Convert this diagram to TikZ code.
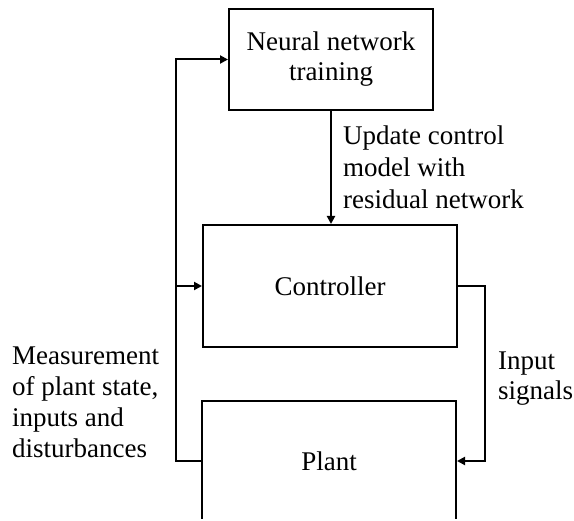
\documentclass[tikz,border=0pt]{standalone}
\usepackage{fontspec}
\setmainfont{Liberation Serif}
\usetikzlibrary{arrows.meta}
\begin{document}
\begin{tikzpicture}[x=1pt,y=-1pt,
  box/.style={draw,line width=2pt,inner sep=0pt,align=center},
  arr/.style={line width=2pt,-{Triangle[length=8pt,width=8pt]}},
  txt/.style={inner sep=0pt,align=left,anchor=base west},
  font=\fontsize{27}{30}\selectfont]
\useasboundingbox (0,0) rectangle (574,521);
\clip (0,0) rectangle (574,518.5);
\node[box,minimum width=204pt,minimum height=101pt] (nn) at (331,59.5) {Neural network\\training};
\node[box,minimum width=254pt,minimum height=122pt] (ctrl) at (330,286) {Controller};
\node[box,minimum width=254pt,minimum height=120pt] (plant) at (329,461) {Plant};
\coordinate (sig) at (485,286);
\coordinate (fbtop) at (176,59.5);
\coordinate (fbmid) at (176,286);
\draw[arr] (nn.south) -- (nn.south |- ctrl.north);
\draw[arr] (ctrl.east) -- (sig) |- (plant.east);
\draw[arr] (plant.west) -| (fbtop) -- (nn.west);
\draw[arr] (fbmid) -- (ctrl.west);
\node[txt,font=\fontsize{27}{32}\selectfont] (upd) at (343,209) {Update control\\model with\\residual network};
\node[txt] (inp) at (498,400) {Input\\signals};
\node[txt,font=\fontsize{27}{31}\selectfont] (meas) at (12,458) {Measurement\\of plant state,\\inputs and\\disturbances};
\end{tikzpicture}
\end{document}
